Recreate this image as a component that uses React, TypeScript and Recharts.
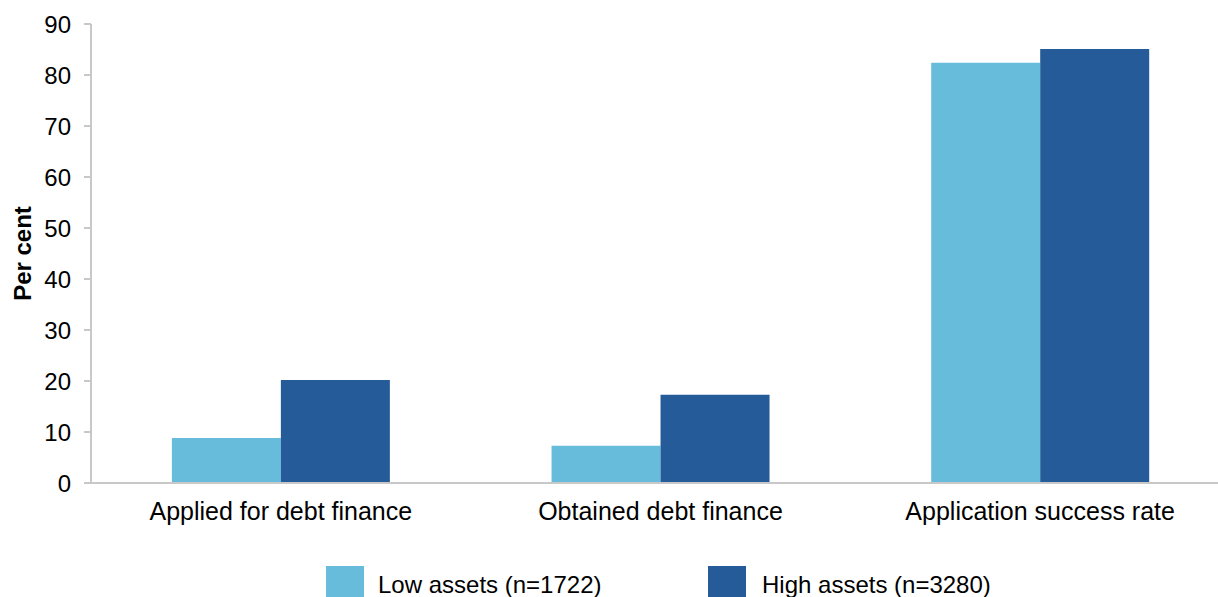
import React from 'react';
import { BarChart, Bar, XAxis, YAxis, Legend, Label } from 'recharts';

const categories = ['Applied for debt finance', 'Obtained debt finance', 'Application success rate'];
const lowAssets = [8.8, 7.3, 82.4];
const highAssets = [20.2, 17.3, 85.1];
const yTicks = [0, 10, 20, 30, 40, 50, 60, 70, 80, 90];
const seriesNames = ['Low assets (n=1722)', 'High assets (n=3280)'];
const colors = ['#67BCDB', '#265B9A'];

const data = categories.map((c, i) => ({ name: c, low: lowAssets[i], high: highAssets[i] }));

const FONT = 'Liberation Sans, Arial, sans-serif';

const renderLegend = () => (
  <div style={{ position: 'relative', height: 40, width: 1218 }}>
    {seriesNames.map((n, i) => (
      <React.Fragment key={n}>
        <div style={{ position: 'absolute', left: i === 0 ? 326 : 708, top: 9, width: 38, height: 34, background: colors[i] }} />
        <span style={{ position: 'absolute', left: i === 0 ? 378 : 762, top: 16, fontFamily: FONT, fontSize: 24, color: '#000', lineHeight: '24px', whiteSpace: 'nowrap' }}>{n}</span>
      </React.Fragment>
    ))}
  </div>
);

export default function App() {
  return (
    <div style={{ position: 'absolute', left: 0, top: 0, width: 1218, height: 597, overflow: 'hidden', background: '#fff' }}>
      <BarChart width={1230} height={597} data={data} margin={{ top: 24, right: 0, left: 0, bottom: 0 }} barGap={0} barCategoryGap="21.3%">
        <XAxis
          dataKey="name"
          height={74}
          tickLine={false}
          axisLine={{ stroke: '#C8C8C8', strokeWidth: 2 }}
          tick={{ fill: '#000', fontSize: 25, fontFamily: FONT }}
          tickMargin={13}
          interval={0}
        />
        <YAxis
          width={91}
          domain={[0, 90]}
          ticks={yTicks}
          interval={0}
          tickSize={7}
          tickLine={{ stroke: '#C8C8C8', strokeWidth: 2 }}
          axisLine={{ stroke: '#C8C8C8', strokeWidth: 2 }}
          tick={{ fill: '#000', fontSize: 24, fontFamily: FONT }}
          tickMargin={13}
        >
          <Label
            value="Per cent"
            angle={-90}
            position="insideLeft"
            offset={22}
            style={{ textAnchor: 'middle', fontWeight: 'bold', fontSize: 24, fontFamily: FONT, fill: '#000' }}
          />
        </YAxis>
        <Legend verticalAlign="bottom" align="left" height={40} content={renderLegend} wrapperStyle={{ left: 0, width: 1218 }} />
        <Bar dataKey="low" name={seriesNames[0]} fill={colors[0]} isAnimationActive={false} />
        <Bar dataKey="high" name={seriesNames[1]} fill={colors[1]} isAnimationActive={false} />
      </BarChart>
    </div>
  );
}
